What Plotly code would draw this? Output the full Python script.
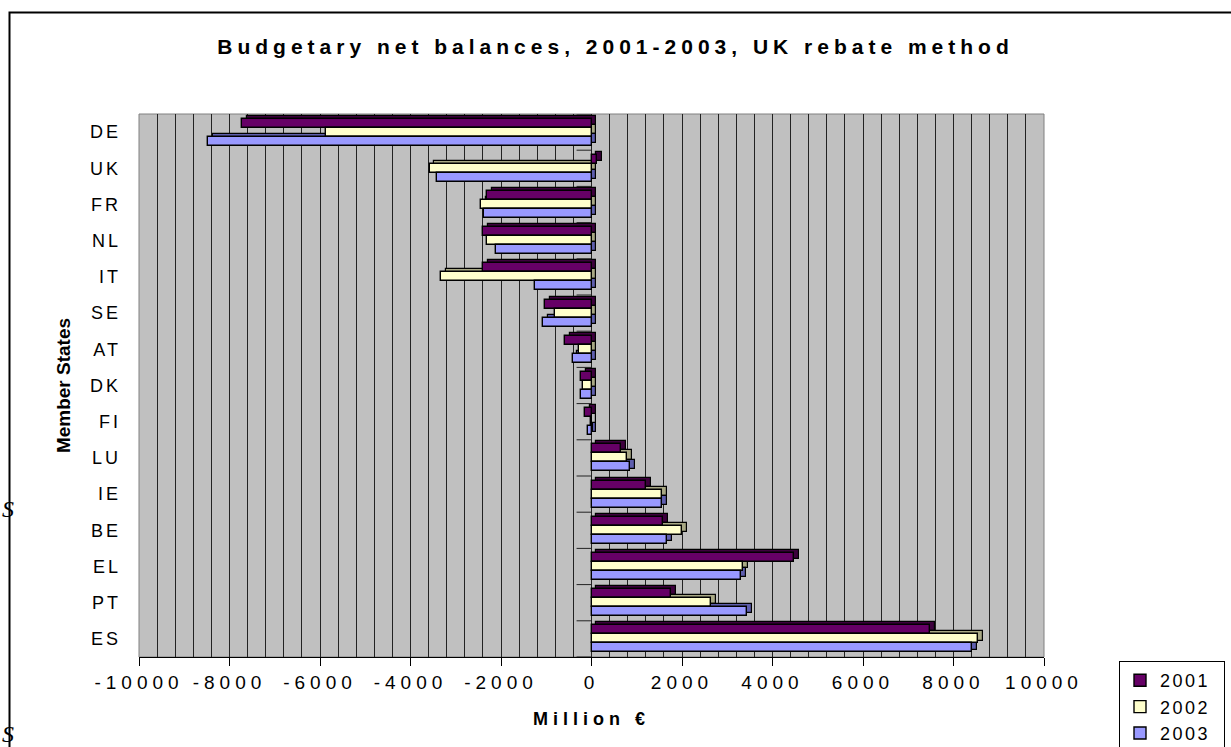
import plotly.graph_objects as go

# Net budgetary balances per Member State (million EUR)
states = ["DE", "UK", "FR", "NL", "IT", "SE", "AT", "DK", "FI",
          "LU", "IE", "BE", "EL", "PT", "ES"]
years = ["2001", "2002", "2003"]
bal_2001 = [-7730, 120, -2310, -2400, -2400, -1020, -580, -240, -150,
            660, 1200, 1590, 4465, 1750, 7470]
bal_2002 = [-5870, -3580, -2440, -2320, -3320, -800, -270, -180, -10,
            790, 1565, 1990, 3340, 2650, 8545]
bal_2003 = [-8470, -3410, -2370, -2100, -1240, -1070, -420, -240, -70,
            845, 1565, 1660, 3305, 3440, 8415]
x_ticks = list(range(-10000, 10001, 2000))

series = [bal_2001, bal_2002, bal_2003]
face_colors = ["#660066", "#FFFFCC", "#9999FF"]
side_colors = ["#3d003d", "#a8a884", "#5e5eae"]

W, H = 1231, 747
L, R, T, B = 139, 187, 114, 90
PW, PH = W - L - R, H - T - B

def px_x(px):
    return (px - L) / PW

def px_y(py):
    return (H - B - py) / PH

FONT = "Liberation Sans, Arial, sans-serif"
BAR_W = 0.25
OFFSETS = [-0.375, -0.125, 0.125]
DEPTH_X = 110      # horizontal depth of the 3-D look, in axis units
DEPTH_Y = 0.08     # vertical depth, in category units

fig = go.Figure()

# depth faces drawn first, so the front faces sit on top of them
for vals, off, col in zip(series, OFFSETS, side_colors):
    fig.add_trace(go.Bar(
        y=states, x=vals, base=DEPTH_X, orientation="h",
        width=BAR_W, offset=off - DEPTH_Y,
        marker=dict(color=col, line=dict(color="black", width=1.2)),
        showlegend=False, hoverinfo="skip",
    ))

for vals, name, off, col in zip(series, years, OFFSETS, face_colors):
    fig.add_trace(go.Bar(
        y=states, x=vals, orientation="h", name=name,
        width=BAR_W, offset=off,
        marker=dict(color=col, line=dict(color="black", width=1.4)),
    ))

# category axis tick marks sitting on the zero line
shapes = []
for i in range(len(states) + 1):
    shapes.append(dict(type="line", xref="x", yref="y",
                       x0=-330, x1=0, y0=i - 0.5, y1=i - 0.5,
                       line=dict(color="#222222", width=1)))

# plot-area edge and outer chart frame
shapes.append(dict(type="rect", xref="paper", yref="paper",
                   x0=0, x1=1, y0=0, y1=1,
                   line=dict(color="#808080", width=1), layer="below"))
shapes.append(dict(type="rect", xref="paper", yref="paper",
                   x0=px_x(9.5), x1=px_x(1262), y0=px_y(12.5), y1=px_y(780),
                   line=dict(color="black", width=2)))

serif = dict(family="Liberation Serif, Times New Roman, serif",
             size=24, style="italic", color="black")
annotations = [
    dict(text="S", xref="paper", yref="paper", x=px_x(0), y=px_y(509),
         xanchor="left", yanchor="middle", showarrow=False, font=serif),
    dict(text="S", xref="paper", yref="paper", x=px_x(0), y=px_y(734),
         xanchor="left", yanchor="middle", showarrow=False, font=serif),
]

fig.update_layout(
    width=W, height=H,
    margin=dict(l=L, r=R, t=T, b=B, autoexpand=False),
    paper_bgcolor="white", plot_bgcolor="#C0C0C0",
    barmode="overlay",
    font=dict(family=FONT, color="black"),
    title=dict(text="Budgetary net balances, 2001-2003, UK rebate method",
               xref="container", x=0.5, xanchor="center",
               yref="container", y=1 - 47 / H, yanchor="middle",
               font=dict(family=FONT, size=21, weight=700, color="black")),
    xaxis=dict(
        range=[-10000, 10000], tickmode="array", tickvals=x_ticks,
        ticktext=[str(v) for v in x_ticks],
        showgrid=True, gridcolor="#222222", gridwidth=1,
        minor=dict(dtick=400, tick0=-10000, showgrid=True,
                   gridcolor="#222222", gridwidth=1, ticks=""),
        zeroline=False, showline=True, linecolor="black", linewidth=1,
        ticks="outside", ticklen=8, tickcolor="black",
        tickfont=dict(family=FONT, size=19, color="black"),
        title=dict(text="Million €", standoff=20,
                   font=dict(family=FONT, size=18, weight=700, color="black")),
        automargin=False, fixedrange=True,
    ),
    yaxis=dict(
        type="category", categoryorder="array", categoryarray=states,
        range=[len(states) - 0.5, -0.5],
        showgrid=False, zeroline=False, showline=False, ticks="",
        ticklabelstandoff=17,
        tickfont=dict(family=FONT, size=18, color="black"),
        title=dict(text="Member States", standoff=20,
                   font=dict(family=FONT, size=19, weight=700, color="black")),
        automargin=False, fixedrange=True,
    ),
    legend=dict(
        x=px_x(1119), y=px_y(661), xanchor="left", yanchor="top",
        bordercolor="black", borderwidth=1, bgcolor="white",
        font=dict(family=FONT, size=18, color="black"),
        traceorder="normal", tracegroupgap=6,
    ),
    shapes=shapes,
    annotations=annotations,
    bargap=0,
)

# widen letter spacing of the chart texts; let the legend box fit the wider labels
spacing_js = """
var gd = document.getElementById('{plot_id}');
function spread(sel, v) {
  gd.querySelectorAll(sel).forEach(function (t) { t.style.letterSpacing = v; });
}
spread('text.gtitle', '5px');
spread('.xtick text', '5px');
spread('.ytick text', '3px');
spread('text.xtitle', '5px');
spread('text.legendtext', '2.5px');
var lg = gd.querySelector('.legend');
if (lg) {
  lg.querySelectorAll('[clip-path]').forEach(function (e) { e.removeAttribute('clip-path'); });
  var bg = lg.querySelector('rect.bg');
  if (bg) { bg.setAttribute('width', '105'); }
}
"""

fig.write_html("out.html", post_script=spacing_js, config={"displayModeBar": False})
